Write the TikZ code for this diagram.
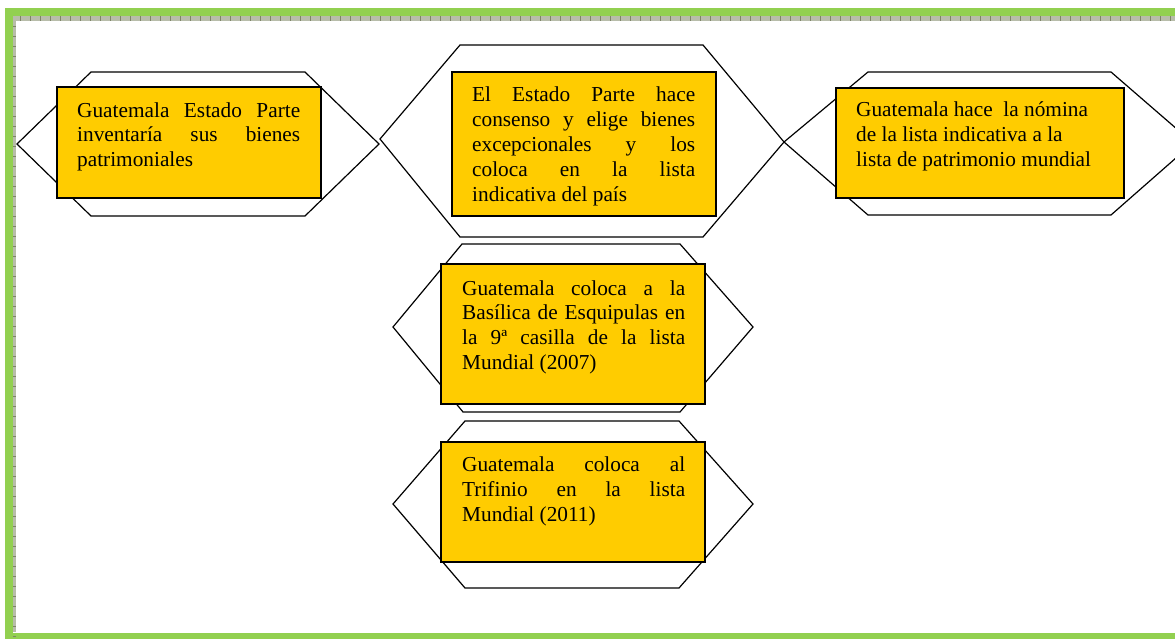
\documentclass[tikz,border=0pt]{standalone}
\usepackage{fontspec}
\setmainfont{Liberation Serif}
\definecolor{framegreen}{HTML}{92D050}
\definecolor{hatch}{HTML}{B8BDAA}
\definecolor{tick}{HTML}{7E8468}
\definecolor{boxyellow}{HTML}{FFCC00}
\newcommand{\jl}[1]{\makebox[223pt][s]{#1}\\}
\tikzset{
  hexline/.style={draw=black, line width=1.2pt, line join=miter},
  ybox/.style={draw=black, line width=1.5pt, fill=boxyellow, rectangle, inner sep=0pt},
  btext/.style={anchor=north west, inner sep=0pt, align=left, font=\fontsize{21.3}{24.8}\selectfont}
}
\begin{document}
\begin{tikzpicture}[x=1pt,y=-1pt]
\useasboundingbox (0,0) rectangle (1175,639);
% frame
\fill[framegreen] (5,8) rectangle (1175,16);
\fill[framegreen] (5,8) rectangle (13,639);
\fill[framegreen] (5,633) rectangle (1175,639);
\fill[hatch] (13,16) rectangle (1175,21.5);
\fill[hatch] (13,16) rectangle (16,632);
\foreach \i in {0,...,115} {\draw[tick, line width=0.6pt] (20+10*\i,16) -- (20+10*\i,21.5);}
\foreach \j in {0,...,61} {\draw[tick, line width=0.6pt] (13,26+10*\j) -- (16,26+10*\j);}
% hexagons
\begin{scope}
\clip (0,0) rectangle (1175,639);
\draw[hexline] (17,144) -- (91,72) -- (305,72) -- (379,144) -- (305,216) -- (91,216) -- cycle;
\draw[hexline] (380,139) -- (460,45) -- (703,45) -- (784,142) -- (703,237) -- (460,237) -- cycle;
\draw[hexline] (784,142) -- (868,72) -- (1111,72) -- (1193,143) -- (1111,215) -- (868,215) -- cycle;
\draw[hexline] (393,327) -- (462,244) -- (680,244) -- (753,327) -- (680,412) -- (463,412) -- cycle;
\draw[hexline] (393,504) -- (465,421) -- (679,421) -- (753,504) -- (679,588) -- (465,588) -- cycle;
\end{scope}
% boxes
\node[ybox, minimum width=264pt, minimum height=111pt] (b1) at (189,142.5) {};
\node[ybox, minimum width=264pt, minimum height=144pt] (b2) at (584,144) {};
\node[ybox, minimum width=288pt, minimum height=110pt] (b3) at (980,143) {};
\node[ybox, minimum width=264pt, minimum height=140pt] (b4) at (573,334) {};
\node[ybox, minimum width=264pt, minimum height=120pt] (b5) at (573,502) {};
% texts
\node[btext] (t1) at (77,99.6) {\strut\jl{Guatemala Estado Parte}\jl{inventaría sus bienes}patrimoniales};
\node[btext] (t2) at (472,84.3) {\strut\jl{El Estado Parte hace}\jl{consenso y elige bienes}\jl{excepcionales y los}\jl{coloca en la lista}indicativa del país};
\node[btext] (t3) at (856,99.3) {\strut Guatemala hace\ \ la nómina\\de la lista indicativa a la\\lista de patrimonio mundial};
\node[btext] (t4) at (462,277.6) {\strut\jl{Guatemala coloca a la}\jl{Basílica de Esquipulas en}\jl{la 9ª casilla de la lista}Mundial (2007)};
\node[btext] (t5) at (462,454.3) {\strut\jl{Guatemala coloca al}\jl{Trifinio en la lista}Mundial (2011)};
\end{tikzpicture}
\end{document}
